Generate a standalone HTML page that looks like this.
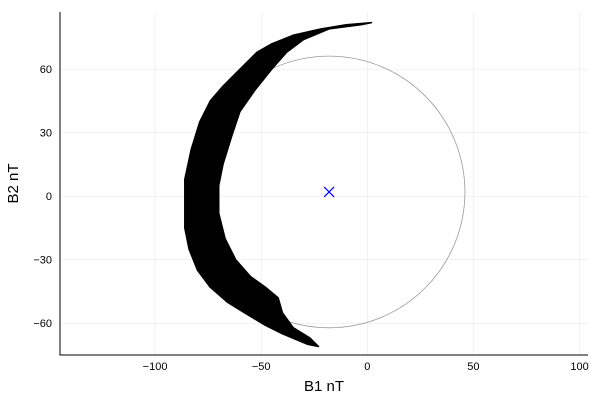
<!DOCTYPE html>
<html><head><meta charset="utf-8"><style>
body{margin:0;background:#fff}
svg{display:block;font-family:"Liberation Sans",sans-serif}
</style></head><body>
<svg id="c" width="600" height="400"></svg>
<script>
const xTicks=[-100,-50,0,50,100];
const yTicks=[-60,-30,0,30,60];
const xLabels=["−100","−50","0","50","100"];
const yLabels=["−60","−30","0","30","60"];
const traceB1=[2,-10,-22,-35,-45,-52,-60,-68,-74,-79,-83,-86,-86,-86,-84,-80,-74,-66,-58,-48,-40,-28,-23,-27,-35,-40,-42,-48,-55,-62,-67,-70,-70,-68,-64,-60,-53,-45,-38,-30,-18,-3];
const traceB2=[82,81,79,76,72,68,60,52,45,35,22,8,-5,-15,-25,-35,-43,-50,-55,-61,-65,-70,-71,-67,-62,-55,-48,-43,-38,-30,-20,-8,5,15,28,40,50,60,68,74,79,81];
const centerB1=-18, centerB2=2, radius=64;
const X0=60,X1=588,Y0=12,Y1=355,xmin=-144.8,xmax=104,ymin=-75,ymax=87;
const sx=v=>X0+(v-xmin)/(xmax-xmin)*(X1-X0);
const sy=v=>Y1-(v-ymin)/(ymax-ymin)*(Y1-Y0);
const svg=document.getElementById('c');const NS='http://www.w3.org/2000/svg';
function mk(t,a,p){const e=document.createElementNS(NS,t);for(const k in a)e.setAttribute(k,a[k]);(p||svg).appendChild(e);return e;}
xTicks.forEach((t,i)=>{
 const g=mk('line',{x1:sx(t),x2:sx(t),y1:Y0,y2:Y1,stroke:'#000','stroke-opacity':0.1,'stroke-width':0.5});
 
 const tx=mk('text',{x:sx(t),y:Y1+15,'text-anchor':'middle','font-size':11});tx.textContent=xLabels[i];
 
});
yTicks.forEach((t,i)=>{
 const g=mk('line',{x1:X0,x2:X1,y1:sy(t),y2:sy(t),stroke:'#000','stroke-opacity':0.1,'stroke-width':0.5});
 
 const tx=mk('text',{x:X0-8,y:sy(t)+4,'text-anchor':'end','font-size':11});tx.textContent=yLabels[i];
 
});
const ci=mk('circle',{cx:sx(centerB1),cy:sy(centerB2),r:radius*(X1-X0)/(xmax-xmin),fill:'none',stroke:'#999','stroke-width':0.8});

const pts=traceB1.map((v,i)=>sx(v)+','+sy(traceB2[i])).join(' ');
const pg=mk('polygon',{points:pts,fill:'#000',stroke:'#000','stroke-width':1.5,'stroke-linejoin':'round'});

const cx=sx(centerB1),cy=sy(centerB2);
const m=mk('path',{d:`M${cx-5},${cy-5}L${cx+5},${cy+5}M${cx-5},${cy+5}L${cx+5},${cy-5}`,stroke:'#0000ff','stroke-width':1.2});

const ax=mk('path',{d:`M${X0},${Y0}L${X0},${Y1}L${X1},${Y1}`,fill:'none',stroke:'#000','stroke-width':1});

const xt=mk('text',{x:(X0+X1)/2,y:391,'text-anchor':'middle','font-size':15});xt.textContent='B1 nT';

const yt=mk('text',{x:18,y:(Y0+Y1)/2,'text-anchor':'middle','font-size':15,transform:`rotate(-90 18 ${(Y0+Y1)/2})`});yt.textContent='B2 nT';

</script>
</body></html>
